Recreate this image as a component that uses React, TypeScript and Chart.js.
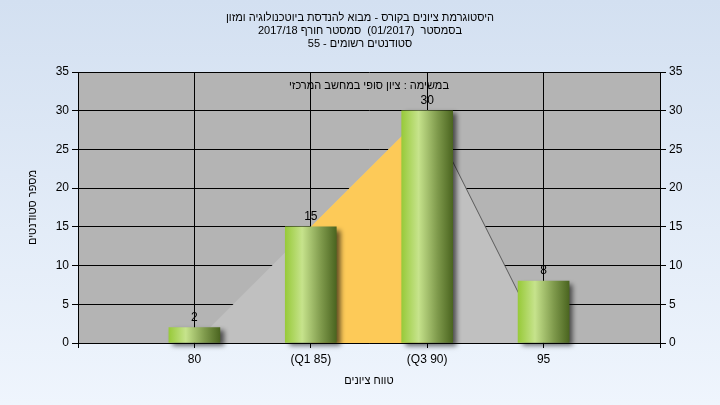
import React, { useEffect, useRef } from 'react';
import { Chart, registerables } from 'chart.js';

Chart.register(...registerables);

const titleLines = [
  'היסטוגרמת ציונים בקורס - מבוא להנדסת ביוטכנולוגיה ומזון',
  'בסמסטר  (01/2017)  סמסטר חורף 2017/18',
  'סטודנטים רשומים - 55',
];
const subtitle = 'במשימה : ציון סופי במחשב המרכזי';
const xTitle = 'טווח ציונים';
const yTitle = 'מספר סטודנטים';

const binValues = [80, 85, 90, 95];
const binLabels = ['80', '(Q1 85)', '(Q3 90)', '95'];
const counts = [2, 15, 30, 8];

const curveX = [80, 90, 95];
const curveY = [0, 30, 0];
const iqrX = [85, 90];
const iqrY = [15, 30];
const rightLineX = [90, 95];
const rightLineY = [30, 0];

const xTickValues = [75, 80, 85, 90, 95, 100];
const X_MIN = 75;
const X_MAX = 100;
const Y_MAX = 35;
const Y_STEP = 5;

const FONT = "'Liberation Sans', Arial, sans-serif";

const bgPlugin = {
  id: 'bgPlugin',
  beforeDraw(chart: any) {
    const { ctx, width, height, chartArea: a } = chart;
    ctx.save();
    const g = ctx.createLinearGradient(0, 0, 0, height);
    g.addColorStop(0, '#d3e0f1');
    g.addColorStop(1, '#eff5fd');
    ctx.fillStyle = g;
    ctx.fillRect(0, 0, width, height);
    ctx.fillStyle = '#b4b4b4';
    ctx.fillRect(a.left, a.top, a.right - a.left, a.bottom - a.top);
    ctx.restore();
  },
};

const shadowPlugin = {
  id: 'shadowPlugin',
  beforeDatasetDraw(chart: any, args: any) {
    const ctx = chart.ctx;
    ctx.save();
    if (args.meta.type === 'bar') {
      ctx.shadowColor = 'rgba(0,0,0,0.6)';
      ctx.shadowBlur = 5;
      ctx.shadowOffsetX = 4;
      ctx.shadowOffsetY = 3;
    }
  },
  afterDatasetDraw(chart: any) {
    chart.ctx.restore();
  },
};

const textPlugin = {
  id: 'textPlugin',
  afterDraw(chart: any) {
    const { ctx, chartArea: a } = chart;
    ctx.save();
    ctx.fillStyle = '#000';
    ctx.font = `11px ${FONT}`;
    ctx.textAlign = 'center';
    ctx.textBaseline = 'middle';
    (ctx as any).direction = 'rtl';
    const ys = [17.5, 30.5, 43.5];
    titleLines.forEach((t, i) => ctx.fillText(t, 360, ys[i]));
    ctx.fillText(subtitle, (a.left + a.right) / 2, 86);
    ctx.fillText(xTitle, (a.left + a.right) / 2, 381);
    ctx.save();
    ctx.translate(33, (a.top + a.bottom) / 2);
    ctx.rotate(-Math.PI / 2);
    ctx.fillText(yTitle, 0, 0);
    ctx.restore();
    (ctx as any).direction = 'ltr';
    ctx.font = `12px ${FONT}`;
    const meta = chart.getDatasetMeta(0);
    ctx.textBaseline = 'alphabetic';
    meta.data.forEach((el: any, i: number) => {
      ctx.fillText(String(counts[i]), el.x, el.y - 7);
    });
    ctx.restore();
  },
};

export default function App() {
  const ref = useRef<HTMLCanvasElement>(null);
  useEffect(() => {
    if (!ref.current) return;
    const tickFont = { family: FONT, size: 12 };
    const chart = new Chart(ref.current, {
      type: 'bar',
      data: {
        datasets: [
          {
            type: 'bar',
            data: counts.map((c, i) => ({ x: binValues[i], y: c })),
            barThickness: 51,
            borderWidth: 0,
            clip: false as any,
            order: 0,
            backgroundColor: (c: any) => {
              const xs = c.chart.scales?.x;
              if (!xs || c.type !== 'data' || !c.raw) return '#9acb3e';
              const cx = xs.getPixelForValue(c.raw.x);
              if (!Number.isFinite(cx)) return '#9acb3e';
              const g = c.chart.ctx.createLinearGradient(cx - 25.5, 0, cx + 25.5, 0);
              g.addColorStop(0, '#98ca3a');
              g.addColorStop(0.33, '#c6e38c');
              g.addColorStop(0.7, '#7f9a4c');
              g.addColorStop(1, '#4b6520');
              return g;
            },
          } as any,
          {
            type: 'line',
            data: rightLineX.map((x, i) => ({ x, y: rightLineY[i] })),
            borderColor: '#5a5a5a',
            borderWidth: 1,
            pointRadius: 0,
            fill: false,
            tension: 0,
            order: 1,
          } as any,
          {
            type: 'line',
            data: iqrX.map((x, i) => ({ x, y: iqrY[i] })),
            borderWidth: 0,
            borderColor: 'rgba(0,0,0,0)',
            backgroundColor: '#fdca58',
            pointRadius: 0,
            fill: 'origin',
            tension: 0,
            order: 2,
          } as any,
          {
            type: 'line',
            data: curveX.map((x, i) => ({ x, y: curveY[i] })),
            borderWidth: 0,
            borderColor: 'rgba(0,0,0,0)',
            backgroundColor: '#c0c0c0',
            pointRadius: 0,
            fill: 'origin',
            tension: 0,
            order: 3,
          } as any,
        ],
      },
      options: {
        responsive: false,
        animation: false,
        events: [],
        layout: { padding: { top: 72, left: 0, right: 0, bottom: 0 } },
        plugins: {
          legend: { display: false },
          tooltip: { enabled: false },
          title: { display: false },
        },
        scales: {
          x: {
            type: 'linear',
            min: X_MIN,
            max: X_MAX,
            offset: false,
            afterBuildTicks: (s: any) => {
              s.ticks = xTickValues.map((v) => ({ value: v }));
            },
            afterFit: (s: any) => {
              s.height = 62;
            },
            ticks: {
              autoSkip: false,
              maxRotation: 0,
              color: '#000',
              font: tickFont,
              padding: 4,
              callback: (v: any) => {
                const i = binValues.indexOf(Number(v));
                return i >= 0 ? binLabels[i] : '';
              },
            },
            grid: { color: '#000', tickLength: 5, lineWidth: 1, offset: false },
            border: { color: '#000' },
          },
          y: {
            position: 'left',
            min: 0,
            max: Y_MAX,
            afterFit: (s: any) => {
              s.width = 78;
            },
            ticks: { stepSize: Y_STEP, color: '#000', font: tickFont, padding: 3 },
            grid: { color: '#000', tickLength: 6 },
            border: { color: '#000' },
          },
          y2: {
            position: 'right',
            min: 0,
            max: Y_MAX,
            afterFit: (s: any) => {
              s.width = 60;
            },
            ticks: { stepSize: Y_STEP, color: '#000', font: tickFont, padding: 3 },
            grid: { drawOnChartArea: false, color: '#000', tickLength: 6 },
            border: { color: '#000' },
          },
        } as any,
      },
      plugins: [bgPlugin, shadowPlugin, textPlugin],
    });
    return () => chart.destroy();
  }, []);
  return (
    <div style={{ position: 'fixed', left: 0, top: 0, width: 720, height: 405 }}>
      <canvas ref={ref} width={720} height={405} style={{ display: 'block' }} />
    </div>
  );
}
